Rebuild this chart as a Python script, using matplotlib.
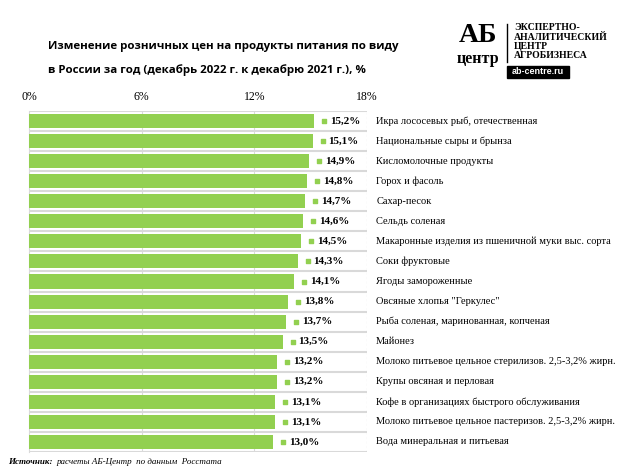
import numpy as np
import matplotlib.pyplot as plt
from matplotlib.transforms import offset_copy
from matplotlib.patches import Rectangle

# Data
categories = [
    'Икра лососевых рыб, отечественная',
    'Национальные сыры и брынза',
    'Кисломолочные продукты',
    'Горох и фасоль',
    'Сахар-песок',
    'Сельдь соленая',
    'Макаронные изделия из пшеничной муки выс. сорта',
    'Соки фруктовые',
    'Ягоды замороженные',
    'Овсяные хлопья "Геркулес"',
    'Рыба соленая, маринованная, копченая',
    'Майонез',
    'Молоко питьевое цельное стерилизов. 2,5-3,2% жирн.',
    'Крупы овсяная и перловая',
    'Кофе в организациях быстрого обслуживания',
    'Молоко питьевое цельное пастеризов. 2,5-3,2% жирн.',
    'Вода минеральная и питьевая',
]
values = [15.2, 15.1, 14.9, 14.8, 14.7, 14.6, 14.5, 14.3, 14.1,
          13.8, 13.7, 13.5, 13.2, 13.2, 13.1, 13.1, 13.0]
xticks = [0, 6, 12, 18]

green = '#92D050'
serif = 'Liberation Serif'

fig = plt.figure(figsize=(6.24, 4.68), dpi=100)
ax = fig.add_axes([29 / 624, 16 / 468, 338 / 624, 341 / 468])

y = np.arange(len(categories))
ax.barh(y, values, height=0.7, color=green, zorder=3)
ax.set_ylim(len(categories) - 0.5, -0.5)
ax.set_xlim(0, 18)

# grid: row separators and vertical lines
for b in np.arange(len(categories) + 1) - 0.5:
    ax.axhline(b, color='#d9d9d9', lw=1.5, zorder=1)
for t in xticks[1:-1]:
    ax.axvline(t, color='#d9d9d9', lw=0.8, zorder=1)
ax.axvline(18, color='#bfbfbf', lw=0.8, ls=(0, (2, 2)), zorder=1)

for s in ax.spines.values():
    s.set_visible(False)
ax.spines['left'].set_visible(True)
ax.spines['left'].set_color('#d9d9d9')

ax.set_yticks([])
ax.xaxis.tick_top()
ax.set_xticks(xticks)
ax.set_xticklabels([f'{t}%' for t in xticks], family=serif, fontsize=8.5)
ax.tick_params(axis='x', length=0, pad=6)

# value labels with small legend-like squares
sq_tr = offset_copy(ax.transData, fig=fig, x=10, y=0, units='dots')
ax.scatter(values, y, marker='s', s=9, color=green, transform=sq_tr,
           zorder=4, clip_on=False)
for v, yi in zip(values, y):
    ax.annotate(f'{v:.1f}%'.replace('.', ','), (v, yi), xytext=(16, 0),
                textcoords='offset pixels', va='center', ha='left',
                family=serif, fontweight='bold', fontsize=8)
    ax.text(1.027, yi, categories[yi], transform=ax.get_yaxis_transform(),
            va='center', ha='left', family=serif, fontsize=7.5)

# title
fig.text(48 / 624, 1 - 47 / 468,
         'Изменение розничных цен на продукты питания по виду',
         family='Open Sans', fontweight='bold', fontsize=8.25, va='center')
fig.text(48 / 624, 1 - 70 / 468,
         'в России за год (декабрь 2022 г. к декабрю 2021 г.), %',
         family='Open Sans', fontweight='bold', fontsize=8.25, va='center')

# logo
fig.text(478 / 624, 1 - 36 / 468, 'АБ', family=serif, fontweight='bold',
         fontsize=20, ha='center', va='center')
fig.text(478 / 624, 1 - 59 / 468, 'центр', family=serif, fontweight='bold',
         fontsize=11.5, ha='center', va='center')
fig.add_artist(plt.Line2D([507 / 624, 507 / 624], [1 - 24 / 468, 1 - 62 / 468],
                          color='black', lw=1))
logo_lines = ['ЭКСПЕРТНО-', 'АНАЛИТИЧЕСКИЙ', 'ЦЕНТР', 'АГРОБИЗНЕСА']
for i, line in enumerate(logo_lines):
    fig.text(514 / 624, 1 - (28 + i * 9.3) / 468, line, family=serif,
             fontweight='bold', fontsize=7, va='center')
fig.add_artist(Rectangle((507 / 624, 1 - 78 / 468), 62 / 624, 12 / 468,
                         transform=fig.transFigure, color='black'))
fig.text(538 / 624, 1 - 72 / 468, 'ab-centre.ru', family='Liberation Sans',
         fontweight='bold', fontsize=6.5, color='white', ha='center', va='center')

# source
fig.text(8 / 624, 1 - 462 / 468, 'Источник:', family=serif, fontweight='bold',
         style='italic', fontsize=6.5, va='center')
fig.text(57 / 624, 1 - 462 / 468, 'расчеты АБ-Центр  по данным  Росстата',
         family=serif, style='italic', fontsize=6.5, va='center')

fig.savefig('out.png', dpi=100)
